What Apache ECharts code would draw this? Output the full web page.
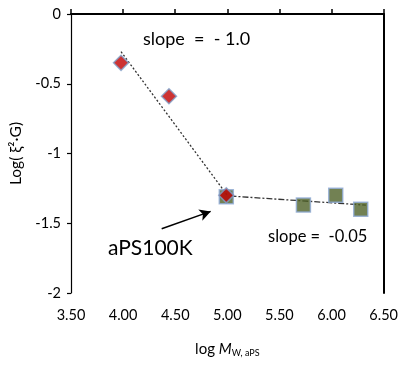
<!DOCTYPE html>
<html>
<head>
<meta charset="utf-8">
<script src="https://cdn.jsdelivr.net/npm/echarts@6/dist/echarts.min.js"></script>
<style>
  html, body { margin: 0; padding: 0; background: #fff; }
  #chart { width: 401px; height: 365px; }
</style>
</head>
<body>
<div id="chart"></div>
<script>
const xTicks = [3.5, 4.0, 4.5, 5.0, 5.5, 6.0, 6.5];
const yTicks = [0, -0.5, -1, -1.5, -2];

// red diamonds
const diamondX = [3.98, 4.44, 4.99];
const diamondY = [-0.35, -0.59, -1.30];

// green squares
const squareX = [4.99, 5.73, 6.04, 6.28];
const squareY = [-1.31, -1.37, -1.30, -1.40];

// fit lines and arrow
const fitSteep = [[3.98, -0.27], [5.0, -1.30]];
const fitFlat = [[5.03, -1.305], [6.33, -1.37]];
const arrowPts = [[4.37, -1.54], [4.84, -1.415]];

const font = 'Lato, "Open Sans", sans-serif';

const chart = echarts.init(document.getElementById('chart'));

const options = {
  animation: false,
  grid: { left: 71, right: 14, top: 14, bottom: 72 },
  xAxis: [
    {
      type: 'value',
      min: xTicks[0],
      max: xTicks[xTicks.length - 1],
      interval: 0.5,
      splitLine: { show: false },
      axisLine: { lineStyle: { color: '#000', width: 1.2 } },
      axisTick: { inside: true, length: 5, lineStyle: { color: '#000', width: 1.5 } },
      axisLabel: { color: '#000', fontFamily: font, fontSize: 14.5, margin: 15,
        formatter: v => v.toFixed(2) },
      name: '{a|log }{m|M}{s|W, aPS}',
      nameLocation: 'middle',
      nameGap: 48,
      nameTextStyle: {
        rich: {
          a: { fontFamily: font, fontSize: 15, color: '#000' },
          m: { fontFamily: font, fontSize: 15, fontStyle: 'italic', color: '#000' },
          s: { fontFamily: font, fontSize: 9, color: '#000', verticalAlign: 'bottom', padding: [8, 0, 0, 0] }
        }
      }
    },
    {
      type: 'value', position: 'top', min: 3.5, max: 6.5,
      axisLine: { show: true, onZero: false, lineStyle: { color: '#000', width: 2 } },
      axisTick: { show: false }, axisLabel: { show: false }, splitLine: { show: false }
    }
  ],
  yAxis: [
    {
      type: 'value',
      min: yTicks[yTicks.length - 1],
      max: yTicks[0],
      interval: 0.5,
      splitLine: { show: false },
      axisLine: { show: true, lineStyle: { color: '#000', width: 1.2 } },
      axisTick: { show: true, length: 4, lineStyle: { color: '#000', width: 1.2 } },
      axisLabel: { color: '#000', fontFamily: font, fontSize: 14.5, margin: 10 },
      name: 'Log( ξ²·G)',
      nameLocation: 'middle',
      nameGap: 45,
      nameTextStyle: { color: '#000', fontFamily: font, fontSize: 15.5 }
    },
    {
      type: 'value', position: 'right', min: -2, max: 0,
      axisLine: { show: true, onZero: false, lineStyle: { color: '#000', width: 2 } },
      axisTick: { show: false }, axisLabel: { show: false }, splitLine: { show: false }
    }
  ],
  series: [
    {
      type: 'line', data: fitSteep, symbol: 'none', z: 2,
      lineStyle: { color: '#333', width: 1.3, type: [2, 2] }
    },
    {
      type: 'line', data: fitFlat, symbol: 'none', z: 2,
      lineStyle: { color: '#333', width: 1.3, type: [6, 2, 2, 2] },
      markLine: {
        silent: true,
        symbol: ['none', 'arrow'],
        symbolSize: [9, 11],
        label: { show: false },
        lineStyle: { color: '#000', width: 1.5, type: 'solid' },
        data: [[{ coord: arrowPts[0] }, { coord: arrowPts[1] }]]
      }
    },
    {
      type: 'scatter', z: 3,
      data: squareX.map((x, i) => [x, squareY[i]]),
      symbol: 'rect', symbolSize: 14,
      itemStyle: { color: '#4f6228', borderColor: '#8eaad6', borderWidth: 1.5 }
    },
    {
      type: 'scatter', z: 4,
      data: diamondX.map((x, i) => [x, diamondY[i]]),
      symbol: 'diamond', symbolSize: 15,
      itemStyle: { color: '#c00000', borderColor: '#7f9fc8', borderWidth: 1.5 }
    }
  ],
  graphic: [
    { type: 'text', left: 143, top: 30,
      style: { text: 'slope  =  - 1.0', font: '18px ' + font, fill: '#000' } },
    { type: 'text', left: 108, top: 238,
      style: { text: 'aPS100K', font: '21px ' + font, fill: '#000' } },
    { type: 'text', left: 268, top: 228,
      style: { text: 'slope =  -0.05', font: '16.5px ' + font, fill: '#000' } }
  ]
};

chart.setOption(options);
</script>
</body>
</html>
